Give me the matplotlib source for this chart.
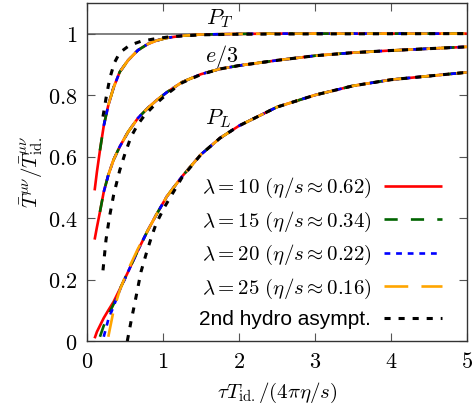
import numpy as np
import matplotlib
matplotlib.use("Agg")
from matplotlib import pyplot as plt

plt.rcParams['mathtext.fontset'] = 'cm'
plt.rcParams['font.family'] = 'serif'
plt.rcParams['font.serif'] = ['DejaVu Serif']

#------------------------------------------------------------------------------
# data
#------------------------------------------------------------------------------
tau = [0.10, 0.13, 0.17, 0.22, 0.28, 0.35, 0.43, 0.54, 0.67, 0.80, 0.91, 1.05,
       1.25, 1.5, 1.75, 2.0, 2.5, 3.0, 3.5, 4.0, 4.5, 5.0]
PT = [0.49, 0.55, 0.62, 0.70, 0.767, 0.825, 0.875, 0.913, 0.946, 0.966, 0.977,
      0.986, 0.993, 0.997, 0.998, 0.999, 1.0, 1.0, 1.0, 1.0, 1.0, 1.0]
E3 = [0.33, 0.37, 0.42, 0.485, 0.54, 0.59, 0.632, 0.68, 0.725, 0.758, 0.782,
      0.809, 0.842, 0.868, 0.885, 0.896, 0.913, 0.928, 0.938, 0.945, 0.951,
      0.957]
PL = [0.009, 0.03, 0.05, 0.075, 0.10, 0.128, 0.168, 0.225, 0.295, 0.36, 0.41,
      0.47, 0.535, 0.607, 0.66, 0.70, 0.761, 0.80, 0.83, 0.85, 0.862, 0.874]

# first grid index of each run and its own early P_L values
lambdas = [10, 15, 20, 25]
eta_s = ["0.62", "0.34", "0.22", "0.16"]
start_idx = [0, 2, 3, 4]
PL_head = [[], [0.014, 0.05, 0.085, 0.12], [0.014, 0.07, 0.113, 0.165],
           [0.014, 0.10, 0.165, 0.232, 0.30]]

# 2nd order hydro asymptotics
hyd_PT_x = [0.21, 0.25, 0.30, 0.36, 0.43, 0.56, 0.71, 0.89, 1.1, 1.5, 2.0, 3.0,
            5.0]
hyd_PT_y = [0.73, 0.79, 0.855, 0.905, 0.938, 0.962, 0.975, 0.983, 0.99, 0.996,
            0.998, 0.999, 1.0]
hyd_E3_x = [0.21, 0.25, 0.30, 0.35, 0.43, 0.50, 0.58, 0.67, 0.76, 0.89, 1.05,
            1.25, 1.5, 1.75, 2.0, 2.5, 3.0, 3.5, 4.0, 4.5, 5.0]
hyd_E3_y = [0.23, 0.33, 0.41, 0.475, 0.555, 0.61, 0.665, 0.705, 0.735, 0.768,
            0.803, 0.84, 0.867, 0.885, 0.896, 0.913, 0.928, 0.938, 0.945,
            0.951, 0.957]
hyd_PL_x = [0.53, 0.58, 0.63, 0.67, 0.71, 0.78, 0.85, 0.91, 1.02, 1.15, 1.25,
            1.5, 1.75, 2.0, 2.5, 3.0, 3.5, 4.0, 4.5, 5.0]
hyd_PL_y = [0.0, 0.065, 0.125, 0.175, 0.225, 0.285, 0.34, 0.382, 0.436, 0.49,
            0.532, 0.607, 0.66, 0.70, 0.761, 0.80, 0.83, 0.85, 0.862, 0.874]

ideal = 1.0

#------------------------------------------------------------------------------
# styles
#------------------------------------------------------------------------------
colors = ['#ff0000', '#006400', '#0000ff', '#ffa500']
dashes = [None, (5, 5), (2.2, 2.2), (9, 5)]
lw = 1.9


def main():
    fig = plt.figure(figsize=(4.73, 4.07), dpi=100)
    ax = fig.add_axes([0.184, 0.162, 0.803, 0.831])

    ax.axhline(ideal, color='#808080', lw=1.4, zorder=1)

    X = np.array(tau)
    for k in range(4):
        i0 = start_idx[k]
        x = X[i0:]
        pl = list(PL_head[k]) + PL[i0 + len(PL_head[k]):]
        label = r"$\lambda = %d\ (\eta/s \approx %s)$" % (lambdas[k], eta_s[k])
        for j, y in enumerate([PT[i0:], E3[i0:], pl]):
            line, = ax.plot(x, y, color=colors[k], lw=lw, zorder=2 + k,
                            label=label if j == 0 else None,
                            solid_capstyle='butt', dash_capstyle='butt')
            if dashes[k] is not None:
                line.set_dashes(dashes[k])

    for j, (hx, hy) in enumerate([(hyd_PT_x, hyd_PT_y), (hyd_E3_x, hyd_E3_y),
                                  (hyd_PL_x, hyd_PL_y)]):
        line, = ax.plot(hx, hy, color='black', lw=2.2, zorder=7,
                        label="2nd hydro asympt." if j == 0 else None,
                        dash_capstyle='butt')
        line.set_dashes((2.0, 2.6))

    ax.text(1.75, 1.05, r"$P_T$", fontsize=16, ha='center', va='center')
    ax.text(1.78, 0.925, r"$e/3$", fontsize=16, ha='center', va='center')
    ax.text(1.72, 0.725, r"$P_L$", fontsize=16, ha='center', va='center')

    ax.set_xlim(0, 5)
    ax.set_ylim(0, 1.1)
    ax.set_xticks(range(6))
    ax.set_xticklabels([r"$%d$" % t for t in range(6)])
    yt = [0, 0.2, 0.4, 0.6, 0.8, 1.0]
    ax.set_yticks(yt)
    ax.set_yticklabels([r"$0$", r"$0.2$", r"$0.4$", r"$0.6$", r"$0.8$", r"$1$"])
    ax.tick_params(direction='in', top=True, right=True, length=6, width=0.8,
                   labelsize=16, color='#555555', pad=7)
    for s in ax.spines.values():
        s.set_linewidth(1.0)
        s.set_color('#333333')

    ax.set_xlabel(r"$\tau T_{\rm id.}/(4\pi\eta/s)$", fontsize=15, labelpad=6)
    ax.set_ylabel(r"$\bar{T}^{\mu\nu}/\bar{T}^{\mu\nu}_{\rm id.}$",
                  fontsize=15, labelpad=2)

    leg = ax.legend(loc='lower right', bbox_to_anchor=(0.935, 0.035),
                    frameon=False, markerfirst=False, fontsize=15,
                    handlelength=2.8, handletextpad=0.6, labelspacing=0.45,
                    borderpad=0, borderaxespad=0)
    leg.get_texts()[4].set_family(['Liberation Sans', 'DejaVu Sans'])

    fig.savefig("out.png", dpi=100)


if __name__ == '__main__':
    main()
